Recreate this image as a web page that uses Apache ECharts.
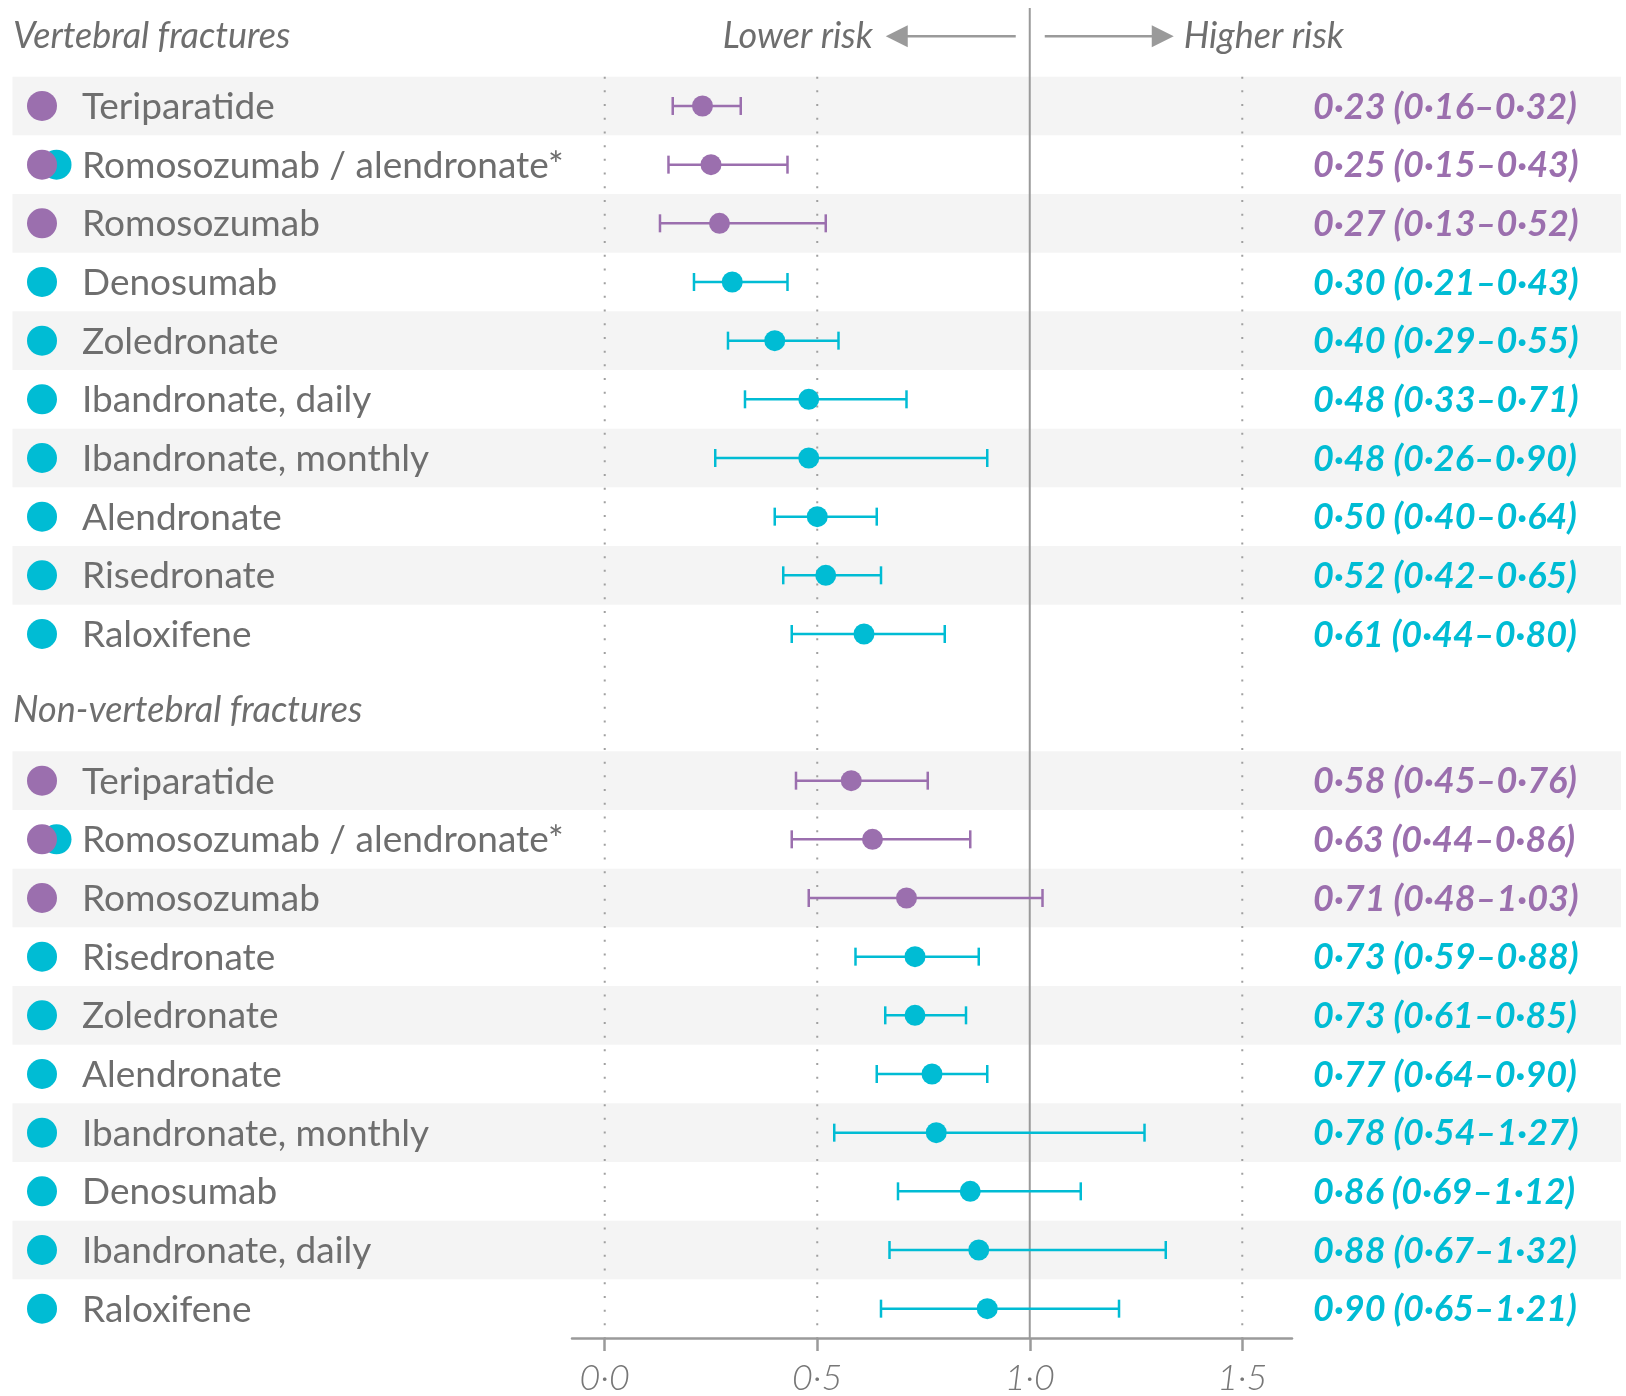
<!DOCTYPE html>
<html>
<head>
<meta charset="utf-8">
<script src="https://cdn.jsdelivr.net/npm/echarts@6/dist/echarts.min.js"></script>
<style>
    html, body {margin: 0; padding: 0; background: #fff;}
    #chart {width: 1626px; height: 1396px;}
</style>
</head>
<body>
<div id="chart"></div>
<script>
//椎骨骨折
const vertNames = ['Teriparatide', 'Romosozumab / alendronate*', 'Romosozumab', 'Denosumab', 'Zoledronate',
    'Ibandronate, daily', 'Ibandronate, monthly', 'Alendronate', 'Risedronate', 'Raloxifene'];
const vertEst = [0.23, 0.25, 0.27, 0.30, 0.40, 0.48, 0.48, 0.50, 0.52, 0.61];
const vertLow = [0.16, 0.15, 0.13, 0.21, 0.29, 0.33, 0.26, 0.40, 0.42, 0.44];
const vertHigh = [0.32, 0.43, 0.52, 0.43, 0.55, 0.71, 0.90, 0.64, 0.65, 0.80];
const vertType = ['anabolic', 'both', 'anabolic', 'anti', 'anti', 'anti', 'anti', 'anti', 'anti', 'anti'];
const vertLabels = ['0·23 (0·16–0·32)', '0·25 (0·15–0·43)', '0·27 (0·13–0·52)', '0·30 (0·21–0·43)', '0·40 (0·29–0·55)',
    '0·48 (0·33–0·71)', '0·48 (0·26–0·90)', '0·50 (0·40–0·64)', '0·52 (0·42–0·65)', '0·61 (0·44–0·80)'];

//非椎骨骨折
const nonVertNames = ['Teriparatide', 'Romosozumab / alendronate*', 'Romosozumab', 'Risedronate', 'Zoledronate',
    'Alendronate', 'Ibandronate, monthly', 'Denosumab', 'Ibandronate, daily', 'Raloxifene'];
const nonVertEst = [0.58, 0.63, 0.71, 0.73, 0.73, 0.77, 0.78, 0.86, 0.88, 0.90];
const nonVertLow = [0.45, 0.44, 0.48, 0.59, 0.66, 0.64, 0.54, 0.69, 0.67, 0.65];
const nonVertHigh = [0.76, 0.86, 1.03, 0.88, 0.85, 0.90, 1.27, 1.12, 1.32, 1.21];
const nonVertType = ['anabolic', 'both', 'anabolic', 'anti', 'anti', 'anti', 'anti', 'anti', 'anti', 'anti'];
const nonVertLabels = ['0·58 (0·45–0·76)', '0·63 (0·44–0·86)', '0·71 (0·48–1·03)', '0·73 (0·59–0·88)', '0·73 (0·61–0·85)',
    '0·77 (0·64–0·90)', '0·78 (0·54–1·27)', '0·86 (0·69–1·12)', '0·88 (0·67–1·32)', '0·90 (0·65–1·21)'];

const sectionTitles = ['Vertebral fractures', 'Non-vertebral fractures'];
const sectionStart = [0, 11.5];
const xTicks = [0, 0.5, 1.0, 1.5];
const dottedRefs = [0, 0.5, 1.5];
const nullValue = 1.0;

const PURPLE = '#9b6fae';
const CYAN = '#00bcd4';
const TEXT = '#6e6e6e';
const LINE = '#9a9a9a';
const BAND = '#f4f4f4';
const FONT = 'Lato, "Noto Sans", sans-serif';

const Y_MIN = -1.67;
const Y_MAX = 21;
const TITLE_OFFSET = -1.19;

//行数据
const rows = [];
const addSection = (s, names, est, low, high, type, labels) => {
    names.forEach((name, i) => {
        rows.push({name, type: type[i], label: labels[i], band: i % 2 === 0,
            value: [est[i], low[i], high[i], sectionStart[s] + i]});
    });
};
addSection(0, vertNames, vertEst, vertLow, vertHigh, vertType, vertLabels);
addSection(1, nonVertNames, nonVertEst, nonVertLow, nonVertHigh, nonVertType, nonVertLabels);

const chart = echarts.init(document.getElementById('chart'));

/**
 * 背景条
 */
const renderBand = (params, api) => {
    const row = rows[params.dataIndex];
    if (!row.band) return null;
    const p = api.coord([0, api.value(3)]);
    const h = api.size([0, 1])[1];
    return {
        type: 'rect',
        shape: {x: 12.5, y: p[1] - h / 2, width: api.getWidth() - 5 - 12.5, height: h},
        style: {fill: BAND},
        silent: true,
    };
};

/**
 * 参考线
 */
const renderRef = (params, api) => {
    const x = api.value(0);
    const solid = x === nullValue;
    const top = api.coord([x, solid ? Y_MIN : -0.5]);
    const bottom = api.coord([x, Y_MAX]);
    return {
        type: 'line',
        shape: {x1: top[0], y1: top[1], x2: bottom[0], y2: bottom[1]},
        style: solid
            ? {stroke: LINE, lineWidth: 2}
            : {stroke: '#a0a0a0', lineWidth: 2, lineDash: [2, 11.7]},
        silent: true,
    };
};

/**
 * 森林图行
 */
const renderRow = (params, api) => {
    const row = rows[params.dataIndex];
    const pos = api.value(3);
    const pEst = api.coord([api.value(0), pos]);
    const pLo = api.coord([api.value(1), pos]);
    const pHi = api.coord([api.value(2), pos]);
    const y = pEst[1];
    const color = row.type === 'anti' ? CYAN : PURPLE;
    const children = [];
    if (row.type === 'both') {
        children.push({type: 'circle', shape: {cx: 56.5, cy: y, r: 15}, style: {fill: CYAN}});
    }
    children.push({type: 'circle', shape: {cx: 42, cy: y, r: 15}, style: {fill: color}});
    children.push({
        type: 'text',
        style: {x: 82, y: y + 1, text: row.name, fill: TEXT, font: '37px ' + FONT, verticalAlign: 'middle'},
    });
    children.push({
        type: 'line', shape: {x1: pLo[0], y1: y, x2: pHi[0], y2: y},
        style: {stroke: color, lineWidth: 2.5},
    });
    children.push({
        type: 'line', shape: {x1: pLo[0], y1: y - 9, x2: pLo[0], y2: y + 9},
        style: {stroke: color, lineWidth: 2.5},
    });
    children.push({
        type: 'line', shape: {x1: pHi[0], y1: y - 9, x2: pHi[0], y2: y + 9},
        style: {stroke: color, lineWidth: 2.5},
    });
    children.push({type: 'circle', shape: {cx: pEst[0], cy: y, r: 10.5}, style: {fill: color}});
    children.push({
        type: 'text',
        style: {x: 1313, y: y + 1, text: row.label, fill: color,
            font: 'italic bold 36px ' + FONT, verticalAlign: 'middle'},
    });
    return {type: 'group', children};
};

/**
 * 标题及箭头
 */
const renderTitle = (params, api) => {
    const p = api.coord([nullValue, sectionStart[params.dataIndex] + TITLE_OFFSET]);
    const y = p[1];
    const titleFont = 'italic 36px ' + FONT;
    const children = [{
        type: 'text',
        style: {x: 13, y: y, text: sectionTitles[params.dataIndex], fill: TEXT,
            font: titleFont, verticalAlign: 'middle'},
    }];
    if (params.dataIndex === 0) {
        const cx = p[0];
        children.push(
            {type: 'line', shape: {x1: cx - 14, y1: y, x2: cx - 140, y2: y}, style: {stroke: LINE, lineWidth: 2.5}},
            {type: 'polygon', shape: {points: [[cx - 144, y], [cx - 122, y - 11], [cx - 122, y + 11]]}, style: {fill: LINE}},
            {type: 'line', shape: {x1: cx + 15, y1: y, x2: cx + 140, y2: y}, style: {stroke: LINE, lineWidth: 2.5}},
            {type: 'polygon', shape: {points: [[cx + 144, y], [cx + 122, y - 11], [cx + 122, y + 11]]}, style: {fill: LINE}},
            {type: 'text', style: {x: cx - 157, y: y, text: 'Lower risk', fill: TEXT,
                font: titleFont, align: 'right', verticalAlign: 'middle'}},
            {type: 'text', style: {x: cx + 154, y: y, text: 'Higher risk', fill: TEXT,
                font: titleFont, align: 'left', verticalAlign: 'middle'}},
        );
    }
    return {type: 'group', children};
};

const option = {
    animation: false,
    backgroundColor: '#fff',
    grid: {left: 572, right: 334, top: 8, bottom: 58},
    xAxis: {
        type: 'value',
        min: -0.077,
        max: 1.617,
        splitLine: {show: false},
        axisLine: {show: true, onZero: false, lineStyle: {color: LINE, width: 2.5}},
        axisTick: {show: true, customValues: xTicks, length: 13, lineStyle: {color: LINE, width: 2.5}},
        axisLabel: {
            customValues: xTicks,
            formatter: v => v.toFixed(1).replace('.', '\u00b7'),
            color: '#777', fontFamily: FONT, fontSize: 36, fontStyle: 'italic', fontWeight: 300,
            margin: 22,
        },
    },
    yAxis: {
        type: 'value',
        inverse: true,
        min: Y_MIN,
        max: Y_MAX,
        show: false,
    },
    series: [
        {type: 'custom', z: 1, renderItem: renderBand, data: rows.map(r => r.value), silent: true},
        {type: 'custom', z: 2, renderItem: renderRef, data: [...dottedRefs, nullValue].map(v => [v, 0]), silent: true},
        {type: 'custom', z: 3, renderItem: renderRow, data: rows.map(r => r.value), silent: true},
        {type: 'custom', z: 3, renderItem: renderTitle, data: sectionTitles.map(() => [nullValue, 0]), silent: true},
    ],
};

chart.setOption(option);
</script>
</body>
</html>
